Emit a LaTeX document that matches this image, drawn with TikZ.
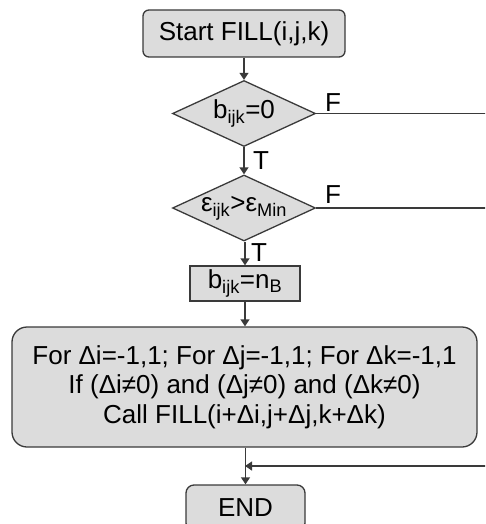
\documentclass[tikz,border=0pt]{standalone}
\usepackage{fontspec}
\setmainfont{Liberation Sans}
\usetikzlibrary{shapes.geometric,arrows.meta}
\definecolor{boxfill}{HTML}{DCDCDC}
\definecolor{edgecol}{HTML}{3A3A3A}
\begin{document}
\begin{tikzpicture}[x=1pt,y=-1pt,
  every node/.style={font=\fontsize{26}{29.5}\selectfont},
  box/.style={draw=edgecol, fill=boxfill, line width=1.3pt, inner sep=0pt, align=center},
  dia/.style={box, diamond, shape aspect=2.15, inner sep=-3pt, minimum width=143pt, minimum height=66pt},
  conn/.style={draw=edgecol, line width=1.3pt},
  arr/.style={conn, -{Triangle[length=7pt,width=9pt]}},
  lab/.style={inner sep=0pt}]
\useasboundingbox (0,0) rectangle (485,524);
\clip (0,0) rectangle (485,524);
\node[box, rounded corners=6pt, minimum width=202pt, minimum height=47pt] (start) at (244,33.5) {Start FILL(i,j,k)};
\node[dia] (d1) at (244,113.5) {b\textsubscript{ijk}=0};
\node[dia] (d2) at (244,208) {ε\textsubscript{ijk}>ε\textsubscript{Min}};
\node[box, minimum width=110pt, minimum height=35pt] (assign) at (245,283.5) {b\textsubscript{ijk}=n\textsubscript{B}};
\node[box, rounded corners=15pt, minimum width=465pt, minimum height=120pt] (big) at (244.5,387)
  {For Δi=-1,1; For Δj=-1,1; For Δk=-1,1\\ If (Δi≠0) and (Δj≠0) and (Δk≠0)\\ Call FILL(i+Δi,j+Δj,k+Δk)};
\node[box, rounded corners=8pt, minimum width=119pt, minimum height=46pt] (endn) at (245.5,508) {END};
\node[lab] (t1) at (261,161) {T};
\node[lab] (t2) at (259,253) {T};
\node[lab] (f1) at (333,103) {F};
\node[lab] (f2) at (333,195) {F};
\coordinate (e1) at (487,113.5);
\coordinate (e2) at (487,208);
\coordinate (e3) at (487,466);
\coordinate (j) at (245,466);
\draw[arr] (start.south -| d1.north) -- (d1.north);
\draw[arr] (d1.south) -- (d2.north);
\draw[arr] (d2.south -| assign.north) -- (assign.north);
\draw[arr] (assign.south) -- (assign.south |- big.north);
\draw[arr] (big.south -| endn.north) -- (endn.north);
\draw[conn] (d1.east) -- (e1);
\draw[conn] (d2.east) -- (e2);
\draw[arr] (e3) -- (j);
\end{tikzpicture}
\end{document}
